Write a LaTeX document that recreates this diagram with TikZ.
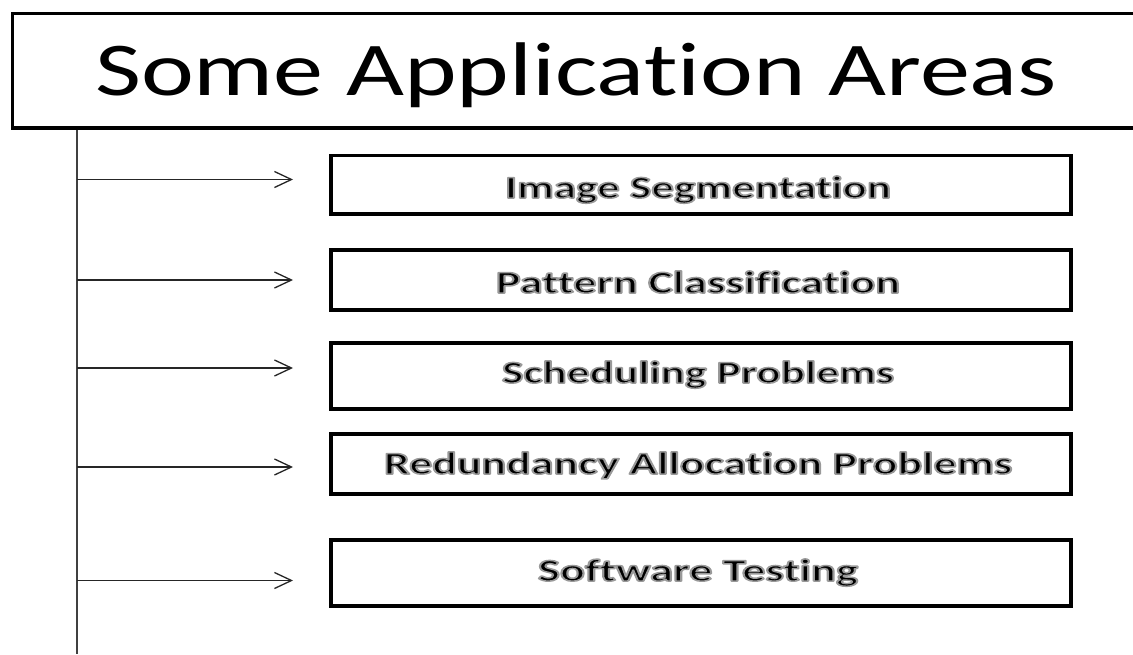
\documentclass[tikz,border=0pt]{standalone}
\usepackage{fontspec}
\setmainfont{Carlito}[Ligatures=NoCommon]
\usetikzlibrary{arrows.meta}

% stretch a text horizontally to a given width, keeping its height
\newcommand\widento[2]{\resizebox{#1}{\height}{#2}}
% text filled black with a soft grey outline (fill+stroke render mode)
\newcommand\glowing[1]{\leavevmode
  \special{pdf:literal direct 2 Tr 1.5 w 1 j 0.6 G}%
  #1%
  \special{pdf:literal direct 0 Tr 0 G}}

\tikzset{
  areabox/.style={draw=black, line width=3.6pt, minimum width=740pt,
    inner sep=0pt, fill=white},
  areatext/.style={anchor=base, inner sep=0pt,
    font=\bfseries\fontsize{31.5}{36}\selectfont},
  branch/.style={draw=black!85, line width=1.3pt,
    -{Straight Barb[length=17pt,width=16pt,line width=1.3pt]},
    shorten >=36pt},
  trunkline/.style={draw=black!75, line width=1.6pt},
  titleframe/.style={draw=black, line width=3.6pt, line join=miter}
}

\begin{document}
\begin{tikzpicture}[x=1pt, y=-1pt]
  \useasboundingbox[fill=white] (0,0) rectangle (1133,654);

  % title with its open-ended frame
  \node[anchor=base west, inner sep=0pt] (title) at (95,95)
    {\fontsize{76}{80}\selectfont\widento{962pt}{Some Application Areas}};
  \draw[titleframe] (1140,13.3) -- (12.5,13.3) -- (12.5,128) -- (1140,128);

  % application area boxes
  \node[areabox, minimum height=58.5pt] (b1) at (700.8,184.7) {};
  \node[areabox, minimum height=60pt]   (b2) at (700.8,280)   {};
  \node[areabox, minimum height=66pt]   (b3) at (700.8,376)   {};
  \node[areabox, minimum height=60pt]   (b4) at (700.8,464)   {};
  \node[areabox, minimum height=65.5pt] (b5) at (700.8,573)   {};

  \node[areatext] (t1) at (698,198) {\glowing{\widento{386pt}{Image Segmentation}}};
  \node[areatext] (t2) at (698,293) {\glowing{\widento{404pt}{Pattern Classification}}};
  \node[areatext] (t3) at (698,383) {\glowing{\widento{392pt}{Scheduling Problems}}};
  \node[areatext] (t4) at (698,474) {\glowing{\widento{628pt}{Redundancy Allocation Problems}}};
  \node[areatext] (t5) at (698,581) {\glowing{\widento{320pt}{Software Testing}}};

  % vertical trunk and its branches
  \coordinate (trunktop) at (77,129.5);
  \coordinate (trunkend) at (77,654);
  \draw[trunkline] (trunktop) -- (trunkend);

  \coordinate (a1) at (77,179.5);
  \coordinate (a2) at (77,280);
  \coordinate (a3) at (77,368);
  \coordinate (a4) at (77,467);
  \coordinate (a5) at (77,580.5);
  \foreach \i in {1,...,5}
    \draw[branch] (a\i) -- (a\i -| b\i.west);
\end{tikzpicture}
\end{document}
